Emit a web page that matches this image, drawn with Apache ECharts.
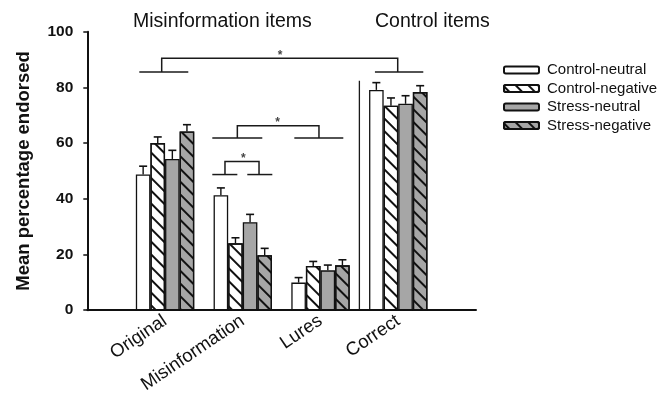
<!DOCTYPE html>
<html>
<head>
<meta charset="utf-8">
<script src="https://cdn.jsdelivr.net/npm/echarts@6/dist/echarts.min.js"></script>
<style>
html,body{margin:0;padding:0;background:#fff;}
#chart{width:663px;height:396px;}
</style>
</head>
<body>
<div id="chart"></div>
<script>
// ---- data ----
const categories = ['Original', 'Misinformation', 'Lures', 'Correct'];
const seriesNames = ['Control-neutral', 'Control-negative', 'Stress-neutral', 'Stress-negative'];
const controlNeutral = [48.7, 41.3, 9.9, 79.1];
const controlNegative = [60.0, 24.0, 15.9, 73.4];
const stressNeutral = [54.3, 31.6, 14.3, 74.1];
const stressNegative = [64.2, 19.7, 16.1, 78.3];
const controlNeutralErr = [3.0, 2.6, 1.8, 2.6];
const controlNegativeErr = [2.2, 2.0, 1.6, 2.8];
const stressNeutralErr = [3.1, 2.8, 1.9, 2.9];
const stressNegativeErr = [2.4, 2.5, 2.0, 2.3];
const yTicks = [0, 20, 40, 60, 80, 100];
const groupTitles = ['Misinformation items', 'Control items'];
// significance brackets (x in category-position units, y in %)
const bracketLines = [
  [[0.669, 85.5], [1.299, 85.5]],
  [[0.957, 85.5], [0.957, 90.5], [3.993, 90.5], [3.993, 85.5]],
  [[3.70, 85.5], [4.322, 85.5]],
  [[1.608, 61.8], [2.251, 61.8]],
  [[1.930, 61.8], [1.930, 66.2], [2.980, 66.2], [2.980, 61.8]],
  [[2.663, 61.8], [3.293, 61.8]],
  [[1.608, 48.7], [1.930, 48.7]],
  [[1.771, 48.7], [1.771, 53.4], [2.209, 53.4], [2.209, 48.7]],
  [[2.058, 48.7], [2.380, 48.7]]
];
const separatorLine = [[3.5, 0], [3.5, 82.4]];
const stars = [[2.479, 92.3], [2.449, 68.4], [2.007, 55.5]];

// ---- build ----
const values = [controlNeutral, controlNegative, stressNeutral, stressNegative];
const errs = [controlNeutralErr, controlNegativeErr, stressNeutralErr, stressNegativeErr];
const axisCats = [''].concat(categories, ['']);
const FONT = "'Liberation Sans', Arial, sans-serif";
const BAR_W = 14.6;
const GRAY = '#a6a6a6';
const hatch = {
  symbol: 'rect', symbolSize: 1, dashArrayX: [1, 0], dashArrayY: [1.7, 6.8],
  rotation: Math.PI / 4, color: '#111'
};
const styles = [
  {color: '#fff'},
  {color: '#fff', decal: hatch},
  {color: GRAY},
  {color: GRAY, decal: hatch}
];

const chart = echarts.init(document.getElementById('chart'));
const series = [];
values.forEach((vals, k) => {
  series.push({
    name: seriesNames[k],
    type: 'bar',
    xAxisIndex: 0,
    barWidth: BAR_W,
    barGap: '0%',
    data: ['-'].concat(vals, ['-']),
    itemStyle: Object.assign({borderColor: '#111', borderWidth: 1.3}, styles[k]),
    emphasis: {disabled: true}
  });
});
values.forEach((vals, k) => {
  series.push({
    type: 'custom',
    xAxisIndex: 0,
    z: 5,
    silent: true,
    data: vals.map((v, i) => [i + 1, v, errs[k][i]]),
    renderItem: function (params, api) {
      const base = api.coord([api.value(0), api.value(1)]);
      const top = api.coord([api.value(0), api.value(1) + api.value(2)]);
      const x = base[0] + (k - 1.5) * BAR_W;
      const half = 4;
      return {
        type: 'group',
        children: [
          {type: 'line', shape: {x1: x, y1: base[1], x2: x, y2: top[1]}, style: {stroke: '#111', lineWidth: 1.4}},
          {type: 'line', shape: {x1: x - half, y1: top[1], x2: x + half, y2: top[1]}, style: {stroke: '#111', lineWidth: 1.6}}
        ]
      };
    }
  });
});
series.push({
  type: 'lines',
  coordinateSystem: 'cartesian2d',
  xAxisIndex: 1,
  polyline: true,
  silent: true,
  z: 6,
  lineStyle: {color: '#1a1a1a', width: 1.5, opacity: 1},
  data: bracketLines.map(c => ({coords: c}))
});
series.push({
  type: 'lines',
  coordinateSystem: 'cartesian2d',
  xAxisIndex: 1,
  polyline: true,
  silent: true,
  z: 6,
  lineStyle: {color: '#1a1a1a', width: 1.3, opacity: 1},
  data: [{coords: separatorLine}]
});
series.push({
  type: 'scatter',
  xAxisIndex: 1,
  symbolSize: 0,
  silent: true,
  z: 7,
  data: stars,
  label: {
    show: true, position: 'inside', formatter: '*', offset: [0, 3],
    color: '#111', fontSize: 12, fontWeight: 'bold', fontFamily: FONT
  }
});

chart.setOption({
  animation: false,
  backgroundColor: '#fff',
  grid: {left: 87.3, top: 31.67, width: 388.7, height: 279.33},
  legend: {
    data: seriesNames,
    orient: 'vertical',
    left: 498,
    top: 57.5,
    itemWidth: 35,
    itemHeight: 7,
    itemGap: 3.5,
    selectedMode: false,
    textStyle: {fontFamily: FONT, fontSize: 15, color: '#111', padding: [0, 0, 0, 3]}
  },
  xAxis: [{
    type: 'category',
    data: axisCats,
    boundaryGap: false,
    axisLine: {lineStyle: {color: '#111', width: 2}},
    axisTick: {show: false},
    axisLabel: {rotate: 34, margin: 9, fontFamily: FONT, fontSize: 18.5, color: '#111', interval: 0}
  }, {
    type: 'value',
    min: 0,
    max: 5,
    show: false
  }],
  yAxis: {
    type: 'value',
    min: yTicks[0],
    max: yTicks[yTicks.length - 1],
    interval: 20,
    name: 'Mean percentage endorsed',
    nameLocation: 'middle',
    nameGap: 54,
    nameTextStyle: {fontFamily: FONT, fontSize: 18.5, fontWeight: 'bold', color: '#111'},
    axisLine: {show: true, lineStyle: {color: '#111', width: 2}},
    axisTick: {show: true, length: 4, lineStyle: {color: '#111', width: 1.5}},
    splitLine: {show: false},
    axisLabel: {margin: 14, fontFamily: FONT, fontSize: 15.5, fontWeight: 'bold', color: '#111'}
  },
  graphic: [
    {type: 'text', left: 133, top: 12, style: {text: groupTitles[0], font: "19.5px " + FONT, fill: '#111'}},
    {type: 'text', left: 375, top: 12, style: {text: groupTitles[1], font: "19.5px " + FONT, fill: '#111'}}
  ],
  series: series
});
</script>
</body>
</html>
